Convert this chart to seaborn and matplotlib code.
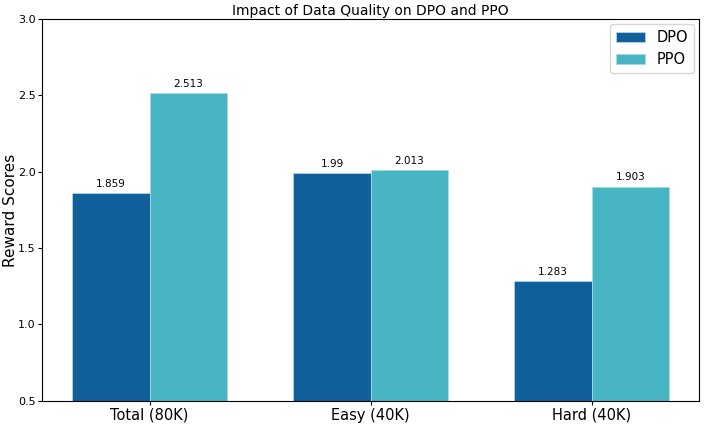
import pandas as pd
import matplotlib
matplotlib.use("Agg")
import matplotlib.pyplot as plt
import seaborn as sns

# Data
categories = ["Total (80K)", "Easy (40K)", "Hard (40K)"]
methods = ["DPO", "PPO"]
dpo_scores = [1.859, 1.99, 1.283]
ppo_scores = [2.513, 2.013, 1.903]
palette = {"DPO": "#11609b", "PPO": "#48b5c4"}

data = pd.DataFrame({
    "Category": categories * 2,
    "Method": ["DPO"] * 3 + ["PPO"] * 3,
    "Score": dpo_scores + ppo_scores,
})

plt.rcParams["font.family"] = ["DejaVu Sans"]

fig, ax = plt.subplots(figsize=(7.06, 4.24), dpi=100)
sns.barplot(data=data, x="Category", y="Score", hue="Method", hue_order=methods,
            palette=palette, width=0.7, saturation=1, edgecolor="#a9d8e0",
            linewidth=0.6, ax=ax)

for container in ax.containers:
    ax.bar_label(container, labels=[f"{v:g}" for v in container.datavalues],
                 padding=3, fontsize=7.5)

ax.set_ylim(0.5, 3.0)
ax.set_xlim(-0.485, 2.485)
ax.set_title("Impact of Data Quality on DPO and PPO", fontsize=10, pad=3)
ax.set_ylabel("Reward Scores", fontsize=11)
ax.yaxis.set_label_coords(-0.037, 0.5)
ax.set_xlabel("")
ax.tick_params(axis="x", labelsize=10.5, pad=2, length=3)
ax.tick_params(axis="y", labelsize=8, pad=2, length=3)
ax.legend(title=None, fontsize=10.5, loc="upper right", borderaxespad=0.35)

plt.subplots_adjust(left=0.06, right=0.99, top=0.955, bottom=0.055)
plt.savefig("out.png", dpi=100)
plt.close()
